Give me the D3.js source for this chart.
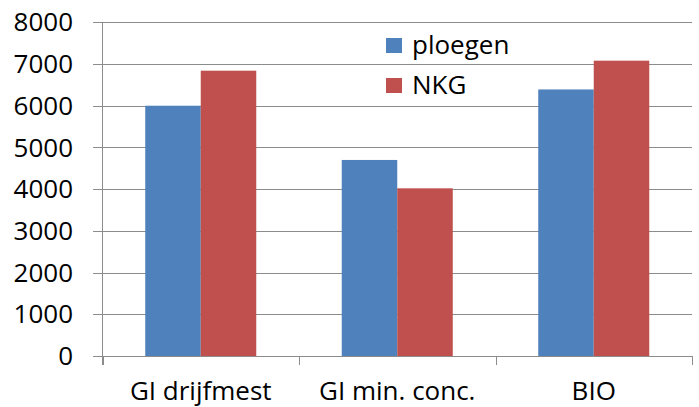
<!DOCTYPE html>
<html>
<head>
<meta charset="utf-8">
<script src="https://cdn.jsdelivr.net/npm/d3@7"></script>
<style>
  html, body { margin: 0; padding: 0; background: #fff; }
  svg { display: block; }
  text { font-family: "Open Sans", "Liberation Sans", sans-serif; fill: #000; }
</style>
</head>
<body>
<svg id="chart" width="699" height="407"></svg>
<script>
const categories = ["GI drijfmest", "GI min. conc.", "BIO"];
const seriesNames = ["ploegen", "NKG"];
const ploegen = [6000, 4700, 6390];
const nkg = [6840, 4020, 7080];
const yTicks = [0, 1000, 2000, 3000, 4000, 5000, 6000, 7000, 8000];
const colors = ["#4F81BD", "#C0504D"];

const svg = d3.select("#chart");
const plot = { left: 102.5, right: 692, top: 22.3, bottom: 356 };

const x = d3.scaleBand().domain(categories).range([plot.left, plot.right]).paddingInner(0).paddingOuter(0);
const inner = d3.scaleBand().domain(seriesNames).range([0, x.bandwidth()]).paddingInner(0).paddingOuter(0.77);
const y = d3.scaleLinear().domain([0, 8000]).range([plot.bottom, plot.top]);

// horizontal gridlines with left tick stubs
svg.append("g")
  .selectAll("line")
  .data(yTicks)
  .join("line")
  .attr("x1", plot.left - 9.5)
  .attr("x2", plot.right)
  .attr("y1", d => Math.round(y(d)) + 0.5)
  .attr("y2", d => Math.round(y(d)) + 0.5)
  .attr("stroke", "#8c8c8c")
  .attr("stroke-width", 1);

// y tick labels
svg.append("g")
  .selectAll("text")
  .data(yTicks)
  .join("text")
  .attr("x", 73)
  .attr("y", d => y(d))
  .attr("dy", "0.35em")
  .attr("text-anchor", "end")
  .attr("font-size", 26)
  .text(d => d);

// bars
const rows = categories.map((c, i) => ({ cat: c, vals: [ploegen[i], nkg[i]] }));
const groups = svg.append("g")
  .selectAll("g")
  .data(rows)
  .join("g")
  .attr("transform", d => `translate(${x(d.cat)},0)`);
groups.selectAll("rect")
  .data(d => d.vals.map((v, j) => ({ name: seriesNames[j], v, j })))
  .join("rect")
  .attr("x", d => inner(d.name))
  .attr("width", inner.bandwidth())
  .attr("y", d => y(d.v))
  .attr("height", d => plot.bottom - y(d.v))
  .attr("fill", d => colors[d.j]);

// vertical axis line
svg.append("line")
  .attr("x1", plot.left).attr("x2", plot.left)
  .attr("y1", plot.top).attr("y2", plot.bottom + 9)
  .attr("stroke", "#8c8c8c");

// category boundary ticks below the baseline
svg.append("g")
  .selectAll("line")
  .data(d3.range(categories.length + 1))
  .join("line")
  .attr("x1", i => Math.round(plot.left + i * x.bandwidth()) + 0.5)
  .attr("x2", i => Math.round(plot.left + i * x.bandwidth()) + 0.5)
  .attr("y1", plot.bottom)
  .attr("y2", plot.bottom + 9)
  .attr("stroke", "#8c8c8c");

// category labels
svg.append("g")
  .selectAll("text")
  .data(categories)
  .join("text")
  .attr("x", d => x(d) + x.bandwidth() / 2)
  .attr("y", 400)
  .attr("text-anchor", "middle")
  .attr("font-size", 26)
  .text(d => d);

// legend
const legend = svg.append("g")
  .selectAll("g")
  .data(seriesNames)
  .join("g")
  .attr("transform", (d, i) => `translate(386,${38 + i * 40})`);
legend.append("rect")
  .attr("width", 16).attr("height", 15)
  .attr("fill", (d, i) => colors[i]);
legend.append("text")
  .attr("x", 26)
  .attr("y", 16)
  .attr("font-size", 26)
  .text(d => d);
</script>
</body>
</html>
